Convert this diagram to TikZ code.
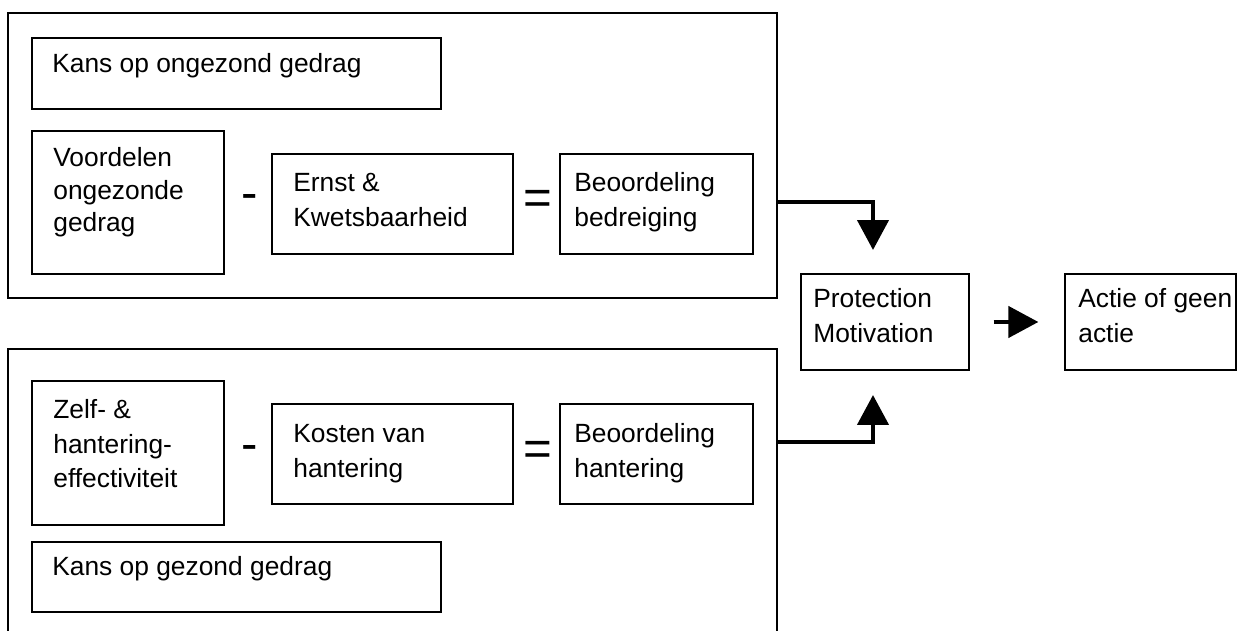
\documentclass[tikz,border=0pt]{standalone}
\usepackage{fontspec}
\setmainfont{Liberation Sans}
\usetikzlibrary{arrows.meta,fit}
% multi-line label whose baseline is that of its first line
\newcommand\txtlines[1]{\parbox[t]{6cm}{\raggedright #1}}
\begin{document}
\begin{tikzpicture}[x=0.02cm,y=-0.02cm,
  box/.style={draw,line width=0.7pt,inner sep=0pt,rectangle},
  txt/.style={inner sep=0pt,anchor=base west,font=\fontsize{15}{19.4}\selectfont},
  txtc/.style={txt,font=\fontsize{15}{18.3}\selectfont},
  sign/.style={inner sep=0pt,anchor=base,font=\fontsize{28}{30}\selectfont},
  arr/.style={line width=2.5pt,line join=miter,-{Triangle[width=0.62cm,length=0.6cm]}}]
\clip (0,0) rectangle (1245,631);
\fill[white] (0,0) rectangle (1245,631);

% threat appraisal group
\node[box,fit={(8,13) (777,298)}] (threat) {};
\node[box,fit={(32,38) (441,109)}] (kans1) {};
\node[txt] (kans1-t) at (52,73) {Kans op ongezond gedrag};
\node[box,fit={(32,131) (224,274)}] (voordelen) {};
\node[txtc] (voordelen-t) at (53,167) {\txtlines{Voordelen\\ongezonde\\gedrag}};
\node[sign] (min1) at (250,210) {-};
\node[box,fit={(272,154) (513,254)}] (ernst) {};
\node[txt] (ernst-t) at (293,192) {\txtlines{Ernst \&\\Kwetsbaarheid}};
\node[sign] (eq1) at (538,215) {=};
\node[box,fit={(560,154) (753,254)}] (bedreig) {};
\node[txt] (bedreig-t) at (574,192) {\txtlines{Beoordeling\\bedreiging}};

% coping appraisal group
\node[box,fit={(8,349) (777,680)}] (coping) {};
\node[box,fit={(32,381) (224,525)}] (zelf) {};
\node[txt] (zelf-t) at (53,419) {\txtlines{Zelf- \&\\hantering-\\effectiviteit}};
\node[sign] (min2) at (250,461) {-};
\node[box,fit={(272,404) (513,504)}] (kosten) {};
\node[txt] (kosten-t) at (293,443) {\txtlines{Kosten van\\hantering}};
\node[sign] (eq2) at (538,466) {=};
\node[box,fit={(560,404) (753,504)}] (hant) {};
\node[txt] (hant-t) at (574,443) {\txtlines{Beoordeling\\hantering}};
\node[box,fit={(32,542) (441,612)}] (kans2) {};
\node[txt] (kans2-t) at (52,576) {Kans op gezond gedrag};

% outcome
\node[box,fit={(801,274) (969,370)}] (pm) {};
\node[txt] (pm-t) at (813,308) {\txtlines{Protection\\Motivation}};
\node[box,fit={(1065,274) (1236,370)}] (actie) {};
\node[txt] (actie-t) at (1078,308) {\txtlines{Actie of geen\\actie}};

% connectors
\coordinate (s1) at (threat.east |- 0,202);
\coordinate (e1) at (873,250);
\coordinate (s2) at (coping.east |- 0,442);
\coordinate (e2) at (873,395);
\draw[arr] (s1) -| (e1);
\draw[arr] (s2) -| (e2);
\draw[arr,shorten <=0.48cm,shorten >=0.52cm] (pm.east) -- (actie.west);
\end{tikzpicture}
\end{document}
